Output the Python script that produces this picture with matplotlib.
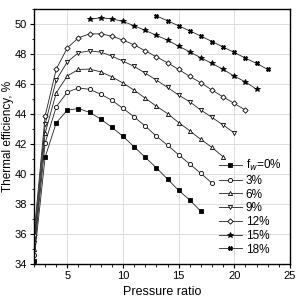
import matplotlib
matplotlib.use("Agg")
import matplotlib.pyplot as plt
from matplotlib.ticker import MultipleLocator

plt.rcParams["font.family"] = ["Liberation Sans", "DejaVu Sans"]

# pressure ratio and thermal efficiency (%) for each water fraction f_w
pr_0 = list(range(2, 18))
eff_0 = [34.2, 41.1, 43.4, 44.25, 44.35, 44.1, 43.65, 43.1, 42.5, 41.8,
         41.1, 40.4, 39.65, 38.9, 38.25, 37.5]
pr_3 = list(range(2, 19))
eff_3 = [34.6, 42.05, 44.47, 45.45, 45.73, 45.63, 45.31, 44.9, 44.36, 43.8,
         43.18, 42.51, 41.91, 41.27, 40.65, 40.03, 39.38]
pr_6 = list(range(2, 20))
eff_6 = [35.0, 42.7, 45.4, 46.53, 46.96, 46.98, 46.8, 46.47, 46.05, 45.58,
         45.04, 44.51, 44.02, 43.42, 42.87, 42.29, 41.76, 41.13]
pr_9 = list(range(2, 21))
eff_9 = [35.4, 43.3, 46.25, 47.47, 48.07, 48.2, 48.11, 47.85, 47.51, 47.16,
         46.71, 46.25, 45.76, 45.25, 44.8, 44.25, 43.76, 43.25, 42.73]
pr_12 = list(range(2, 22))
eff_12 = [35.9, 43.85, 46.98, 48.4, 49.07, 49.33, 49.33, 49.18, 48.91, 48.6,
          48.2, 47.8, 47.4, 46.96, 46.49, 46.07, 45.58, 45.13, 44.69, 44.25]
pr_15 = list(range(7, 23))
eff_15 = [50.31, 50.4, 50.33, 50.16, 49.87, 49.56, 49.23, 48.91, 48.51,
          48.13, 47.73, 47.36, 46.96, 46.51, 46.13, 45.64]
pr_18 = list(range(13, 24))
eff_18 = [50.53, 50.2, 49.87, 49.53, 49.18, 48.82, 48.45, 48.09, 47.71,
          47.36, 46.96]

labels = [r"f$_w$=0%", "3%", "6%", "9%", "12%", "15%", "18%"]

series = [
    (pr_0, eff_0, "s", "black"),
    (pr_3, eff_3, "o", "white"),
    (pr_6, eff_6, "^", "white"),
    (pr_9, eff_9, "v", "white"),
    (pr_12, eff_12, "D", "white"),
    (pr_15, eff_15, "*", "black"),
    (pr_18, eff_18, "X", "black"),
]

fig = plt.figure(figsize=(2.98, 3.04), dpi=100)
ax = fig.add_axes([0.114, 0.132, 0.859, 0.839])

for (x, y, m, fc), lab in zip(series, labels):
    ms = 3.0
    if m == "*":
        ms = 4.0
    elif m == "D":
        ms = 2.7
    ax.plot(x, y, color="#222222", linewidth=0.6, marker=m, markersize=ms,
            markerfacecolor=fc, markeredgecolor="black", markeredgewidth=0.6,
            label=lab)

ax.set_xlim(2, 25)
ax.set_ylim(34, 51)
ax.xaxis.set_major_locator(MultipleLocator(5))
ax.xaxis.set_minor_locator(MultipleLocator(1))
ax.yaxis.set_major_locator(MultipleLocator(2))
ax.yaxis.set_minor_locator(MultipleLocator(1))
ax.tick_params(which="major", direction="out", length=3, width=0.8,
               labelsize=8, pad=2)
ax.tick_params(which="minor", direction="out", length=1.8, width=0.6)
ax.grid(True, which="major", color="#d8d8d8", linewidth=0.6)
ax.set_axisbelow(True)
for s in ax.spines.values():
    s.set_linewidth(1.0)

ax.set_xlabel("Pressure ratio", fontsize=9, labelpad=4)
ax.set_ylabel("Thermal efficiency, %", fontsize=8.5, labelpad=0.5)

ax.legend(loc="lower right", bbox_to_anchor=(1.0, 0.0), frameon=False,
          fontsize=8.5, handlelength=2.0, handletextpad=0.3,
          labelspacing=0.15, borderaxespad=0.3)

fig.savefig("out.png", dpi=100)
